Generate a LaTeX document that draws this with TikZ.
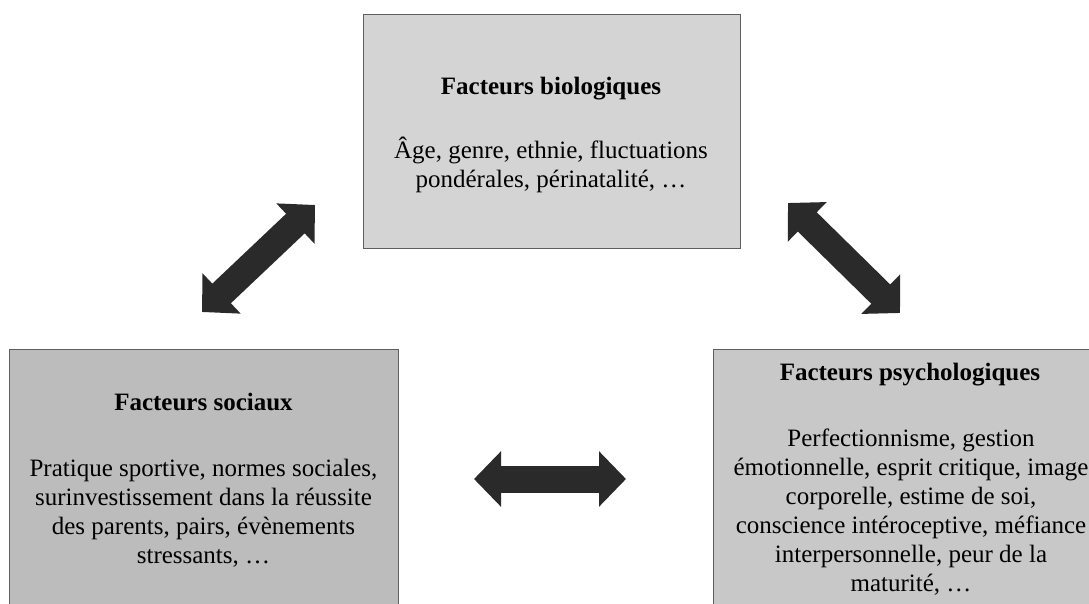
\documentclass[tikz,border=0pt]{standalone}
\usepackage{fontspec}
\setmainfont{Liberation Serif}
\usetikzlibrary{arrows.meta}

\definecolor{biogray}{RGB}{212,212,212}
\definecolor{socgray}{RGB}{188,188,188}
\definecolor{psygray}{RGB}{200,200,200}
\definecolor{arrowgray}{RGB}{42,42,42}
\definecolor{edgegray}{RGB}{95,95,95}

\tikzset{
  factorbox/.style={draw=edgegray, line width=1pt, inner sep=0pt},
  titletext/.style={font=\fontsize{25}{29}\selectfont\bfseries, inner sep=0pt, anchor=base},
  bodytext/.style={font=\fontsize{25}{29}\selectfont, align=center, inner sep=0pt},
  fatarrow/.style={draw=arrowgray, line width=27pt,
    {Triangle[width=54pt,length=27pt]}-{Triangle[width=54pt,length=27pt]}}
}

\begin{document}
\begin{tikzpicture}[x=1pt,y=-1pt]
\useasboundingbox (0,0) rectangle (1089,604);
\clip (0,0) rectangle (1089,604);

% boxes
\draw[factorbox, fill=biogray] (363,15) rectangle (740,248);
\draw[factorbox, fill=socgray] (9,349) rectangle (398,630);
\draw[factorbox, fill=psygray] (713,349) rectangle (1110,630);

% texts
\node[titletext] (biotitle) at (551,95) {Facteurs biologiques};
\node[bodytext] (biobody) at (551,165) {Âge, genre, ethnie, fluctuations\\pondérales, périnatalité, \dots};

\node[titletext] (soctitle) at (203.5,410) {Facteurs sociaux};
\node[bodytext] (socbody) at (203.5,513) {Pratique sportive, normes sociales,\\surinvestissement dans la réussite\\des parents, pairs, évènements\\stressants, \dots};

\node[titletext] (psytitle) at (910,380) {Facteurs psychologiques};
\node[bodytext] (psybody) at (911,512) {Perfectionnisme, gestion\\émotionnelle, esprit critique, image\\corporelle, estime de soi,\\conscience intéroceptive, méfiance\\interpersonnelle, peur de la\\maturité, \dots};

% arrows
\coordinate (socup) at (202,312);
\coordinate (biodown) at (315,205);
\coordinate (bioright) at (788,203);
\coordinate (psyup) at (900,313);
\coordinate (socright) at (474,479);
\coordinate (psyleft) at (626,479);

\draw[fatarrow] (socup) -- (biodown);
\draw[fatarrow] (bioright) -- (psyup);
\draw[fatarrow] (socright) -- (psyleft);
\end{tikzpicture}
\end{document}
